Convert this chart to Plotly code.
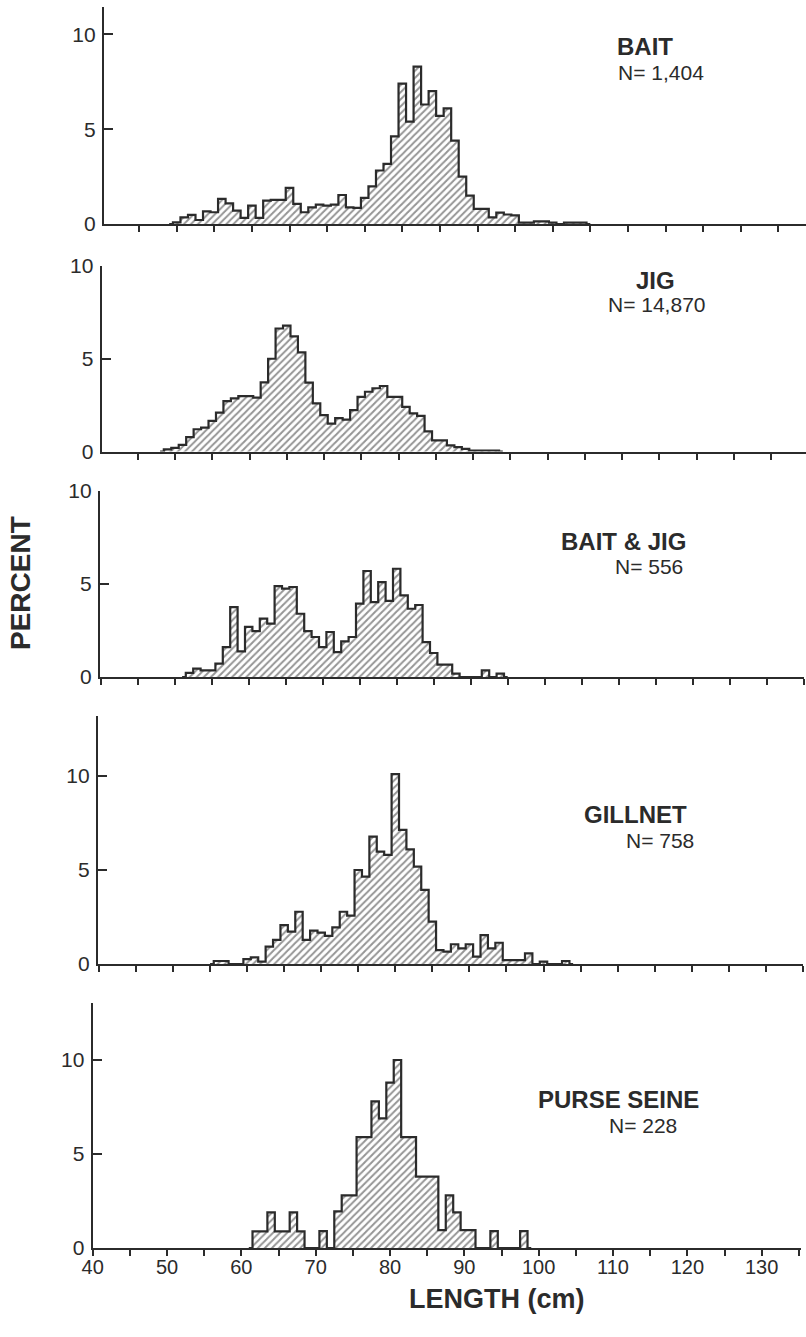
import plotly.graph_objects as go

FONT = "Liberation Sans, Arial, Helvetica, sans-serif"
INK = "#2b2b2b"
W, H = 806, 1337

# ---------------- data (percent of fish per 1-cm length class) ----------------
panel_names = ["BAIT", "JIG", "BAIT & JIG", "GILLNET", "PURSE SEINE"]
panel_counts = ["N= 1,404", "N= 14,870", "N= 556", "N= 758", "N= 228"]

bait_first_cm = 50
bait_pct = [0.09, 0.35, 0.48, 0.21, 0.67, 0.62, 1.32, 1.09, 0.71, 0.32,
            0.97, 0.32, 1.23, 1.27, 1.27, 1.90, 1.06, 0.62, 0.88, 1.02,
            0.97, 1.02, 1.53, 0.88, 0.85, 1.38, 1.98, 2.82, 3.17, 4.62,
            7.40, 5.40, 8.30, 6.30, 7.00, 5.70, 6.10, 4.40, 2.50, 1.50,
            0.80, 0.80, 0.35, 0.60, 0.50, 0.45, 0.07, 0.07, 0.14, 0.14,
            0.07, 0.00, 0.07, 0.07, 0.07]

jig_first_cm = 49
jig_pct = [0.11, 0.20, 0.36, 0.78, 1.20, 1.29, 1.65, 2.10, 2.72, 2.86,
           2.99, 2.99, 2.90, 3.73, 5.00, 6.63, 6.79, 6.21, 5.34, 3.71,
           2.59, 1.96, 1.50, 1.80, 1.72, 2.23, 2.95, 3.22, 3.41, 3.53,
           2.95, 2.95, 2.41, 2.05, 1.92, 1.09, 0.60, 0.60, 0.33, 0.24,
           0.14, 0.05, 0.05, 0.05, 0.05]

baitjig_first_cm = 52
baitjig_pct = [0.22, 0.45, 0.36, 0.36, 0.72, 1.61, 3.76, 1.38, 2.69, 2.47,
               3.14, 2.87, 4.89, 4.75, 4.84, 3.40, 2.47, 2.15, 1.61, 2.42,
               1.34, 1.92, 2.15, 3.94, 5.70, 4.03, 5.10, 4.09, 5.82, 4.39,
               3.67, 3.87, 1.88, 1.29, 0.66, 0.66, 0.18, 0.00, 0.00, 0.00,
               0.36, 0.00, 0.18]

gillnet_first_cm = 56
gillnet_pct = [0.16, 0.16, 0.00, 0.00, 0.26, 0.35, 0.13, 0.92, 1.28, 2.07,
               1.72, 2.78, 1.28, 1.77, 1.67, 1.50, 1.95, 2.78, 2.57, 5.00,
               4.65, 6.77, 5.98, 5.80, 10.10, 7.13, 6.10, 5.18, 3.94, 2.25,
               0.74, 0.66, 1.05, 0.83, 1.05, 0.39, 1.54, 0.83, 1.13, 0.21,
               0.21, 0.21, 0.57, 0.00, 0.13, 0.00, 0.00, 0.16]

seine_first_cm = 62
seine_pct = [0.88, 0.88, 1.90, 0.88, 0.88, 1.90, 0.88, 0.00, 0.00, 0.90,
             0.00, 1.95, 2.80, 2.80, 5.90, 5.90, 7.80, 6.90, 8.80, 10.00,
             5.90, 5.90, 3.80, 3.80, 3.80, 0.95, 2.80, 1.90, 0.95, 0.95,
             0.00, 0.00, 0.90, 0.00, 0.00, 0.00, 0.90]

x_tick_vals = [40, 45, 50, 55, 60, 65, 70, 75, 80, 85, 90, 95,
               100, 105, 110, 115, 120, 125, 130, 135]
x_tick_text = ["40", "", "50", "", "60", "", "70", "", "80", "", "90", "",
               "100", "", "110", "", "120", "", "130", ""]
y_tick_vals = [0, 5, 10]
y_tick_text = ["0", "5", "10"]

x_title = "LENGTH (cm)"
y_title = "PERCENT"

series = [(bait_first_cm, bait_pct), (jig_first_cm, jig_pct),
          (baitjig_first_cm, baitjig_pct), (gillnet_first_cm, gillnet_pct),
          (seine_first_cm, seine_pct)]

# ---------------- layout geometry (pixels in the 806x1337 page) ----------------
# x: pixel of 40 cm, px per cm, axis start px, axis end px
xgeo = [(101.5, 7.52, 104.0, 806.0),
        (100.5, 7.45, 101.7, 806.0),
        (100.7, 7.40, 100.0, 803.7),
        (98.9, 7.41, 98.0, 802.9),
        (92.7, 7.433, 92.7, 800.8)]
# y: pixel of 0, px per percent, axis top px
ygeo = [(224.0, 18.97, 7.0),
        (451.5, 18.55, 266.0),
        (677.0, 18.6, 491.0),
        (964.0, 18.8, 716.0),
        (1248.0, 18.8, 1003.0)]
title_pos = [((645, 46), (661, 72)),
             ((655, 280), (657, 304)),
             ((623, 541), (649, 566)),
             ((635, 814), (660, 840)),
             ((618, 1099), (643, 1125))]

fig = go.Figure()
layout = dict(
    width=W, height=H, autosize=False,
    margin=dict(l=0, r=0, t=0, b=0, pad=0, autoexpand=False),
    paper_bgcolor="white", plot_bgcolor="white",
    showlegend=False, barmode="overlay", bargap=0,
    font=dict(family=FONT, color=INK),
)

annotations = []
for i, (first, vals) in enumerate(series):
    n = i + 1
    xa = "x" if n == 1 else f"x{n}"
    ya = "y" if n == 1 else f"y{n}"
    lengths = [first + j for j in range(len(vals))]

    fig.add_trace(go.Bar(
        x=lengths, y=vals, width=1.0, xaxis=xa, yaxis=ya,
        marker=dict(color="white", line=dict(width=0),
                    pattern=dict(shape="/", fgcolor=INK, bgcolor="white",
                                 size=5, solidity=0.4)),
        hoverinfo="x+y",
    ))
    # step outline of the histogram
    sx = [lengths[0] - 1] + lengths + [lengths[-1] + 1]
    sy = [0] + vals + [0]
    fig.add_trace(go.Scatter(
        x=sx, y=sy, mode="lines", xaxis=xa, yaxis=ya,
        line=dict(color=INK, width=2.2, shape="hvh"),
        hoverinfo="skip",
    ))

    x40, ppc, xs, xe = xgeo[i]
    y0, ppu, ytop = ygeo[i]
    xr = [40 + (xs - x40) / ppc, 40 + (xe - x40) / ppc]
    yr = [0, (y0 - ytop) / ppu]
    last = (n == 5)
    layout["xaxis" if n == 1 else f"xaxis{n}"] = dict(
        domain=[xs / W, min(1.0, xe / W)], range=xr, anchor=ya,
        showgrid=False, zeroline=False, automargin=False,
        showline=True, linecolor=INK, linewidth=2.2,
        ticks="outside", ticklen=6, tickwidth=1.8, tickcolor=INK,
        tickmode="array", tickvals=x_tick_vals, ticktext=x_tick_text,
        showticklabels=last, ticklabelstandoff=-6,
        tickfont=dict(family=FONT, size=20, color=INK),
    )
    layout["yaxis" if n == 1 else f"yaxis{n}"] = dict(
        domain=[1 - y0 / H, 1 - ytop / H], range=yr, anchor=xa,
        showgrid=False, zeroline=False, automargin=False,
        showline=True, linecolor=INK, linewidth=2.2,
        ticks="inside", ticklen=9, tickwidth=1.8, tickcolor=INK,
        tickmode="array", tickvals=y_tick_vals, ticktext=y_tick_text,
        ticklabelstandoff=2,
        tickfont=dict(family=FONT, size=21, color=INK),
    )
    (tx, ty), (nx, ny) = title_pos[i]
    annotations.append(dict(text=f"<b>{panel_names[i]}</b>", x=tx / W, y=1 - ty / H,
                            xref="paper", yref="paper", showarrow=False,
                            xanchor="center", yanchor="middle",
                            font=dict(family=FONT, size=24, color=INK)))
    annotations.append(dict(text=panel_counts[i], x=nx / W, y=1 - ny / H,
                            xref="paper", yref="paper", showarrow=False,
                            xanchor="center", yanchor="middle",
                            font=dict(family=FONT, size=21, color=INK)))

annotations.append(dict(text=f"<b>{x_title}</b>", x=497 / W, y=1 - 1299 / H,
                        xref="paper", yref="paper", showarrow=False,
                        xanchor="center", yanchor="middle",
                        font=dict(family=FONT, size=27, color=INK)))
annotations.append(dict(text=f"<b>{y_title}</b>", x=20 / W, y=1 - 583 / H,
                        xref="paper", yref="paper", showarrow=False, textangle=-90,
                        xanchor="center", yanchor="middle",
                        font=dict(family=FONT, size=28, color=INK)))
layout["annotations"] = annotations

fig.update_layout(**layout)
fig.write_html(
    "out.html",
    config={"responsive": False, "displayModeBar": False},
    post_script="document.body.style.margin='0';",
)
